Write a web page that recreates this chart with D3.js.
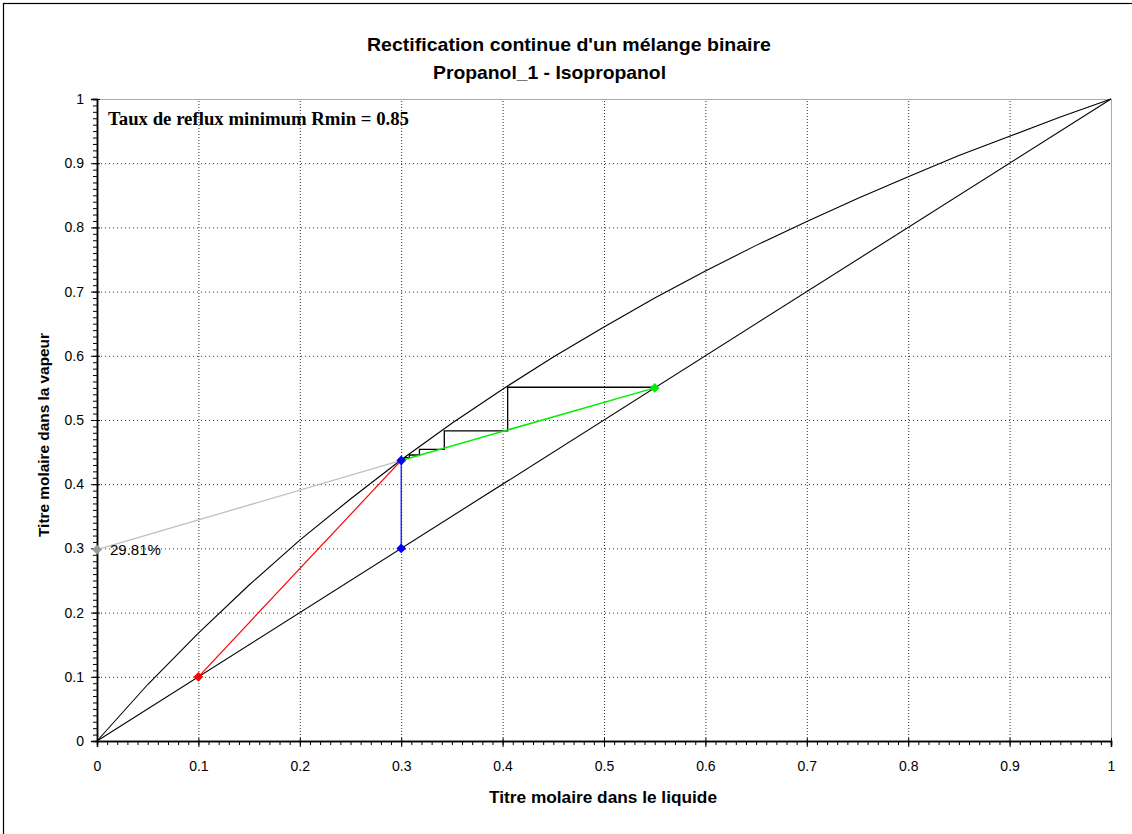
<!DOCTYPE html>
<html>
<head>
<meta charset="utf-8">
<script src="https://cdn.jsdelivr.net/npm/d3@7"></script>
<style>
  html, body { margin: 0; padding: 0; background: #fff; }
  svg { display: block; }
</style>
</head>
<body>
<script>
// Liquid-vapour equilibrium, Propanol_1 / Isopropanol (mole fractions)
const eqX = [0, 0.05, 0.1, 0.15, 0.2, 0.25, 0.3, 0.35, 0.4, 0.45, 0.5, 0.55, 0.6, 0.65, 0.7, 0.75, 0.8, 0.85, 0.9, 0.95, 1];
const eqY = [0, 0.088, 0.168, 0.243, 0.313, 0.377, 0.438, 0.495, 0.548, 0.598, 0.645, 0.690, 0.732, 0.772, 0.809, 0.845, 0.879, 0.912, 0.942, 0.972, 1];

// Diagonal y = x
const diagX = [0, 1];

// Compositions
const xD = 0.55;        // distillate
const xF = 0.30;        // feed
const xW = 0.10;        // residue
const yPinch = 0.437;   // intersection of operating lines on the q-line
const intercept = 0.2981; // ordinate at origin of rectifying line
const interceptLabel = "29.81%";
const rminText = "Taux de reflux minimum Rmin = 0.85";

// Stage construction (McCabe-Thiele steps)
const stepX = [0.405, 0.3425, 0.318, 0.308, 0.3035, 0.3015];
const stepY = [0.551, 0.483, 0.4543, 0.4455, 0.4415, 0.4395, 0.4385];

const tickVals = [0, 0.1, 0.2, 0.3, 0.4, 0.5, 0.6, 0.7, 0.8, 0.9, 1];
const tickLabels = ["0", "0.1", "0.2", "0.3", "0.4", "0.5", "0.6", "0.7", "0.8", "0.9", "1"];

const SANS = "Arial, 'Liberation Sans', sans-serif";
const SERIF = "'Liberation Serif', 'Times New Roman', serif";

const W = 1132, H = 834;
const svg = d3.select("body").append("svg").attr("width", W).attr("height", H)
  .style("font-family", SANS);

// outer frame (only top and left edges fall inside the window)
svg.append("rect").attr("x", 3.5).attr("y", 3.5).attr("width", 1140).attr("height", 840)
  .attr("fill", "none").attr("stroke", "#000").attr("stroke-width", 1.2);

const x = d3.scaleLinear().domain([0, 1]).range([97, 1111]);
const y = d3.scaleLinear().domain([0, 1]).range([741, 99]);

// title
svg.append("text").attr("x", 569).attr("y", 51).attr("text-anchor", "middle")
  .attr("font-size", 19).attr("font-weight", "bold")
  .attr("textLength", 404).attr("lengthAdjust", "spacingAndGlyphs")
  .text("Rectification continue d'un mélange binaire");
svg.append("text").attr("x", 549.5).attr("y", 79).attr("text-anchor", "middle")
  .attr("font-size", 19).attr("font-weight", "bold")
  .attr("textLength", 233).attr("lengthAdjust", "spacingAndGlyphs")
  .text("Propanol_1 - Isopropanol");

// grid
const grid = svg.append("g");
tickVals.filter(v => v > 0 && v < 1).forEach(v => {
  grid.append("line").attr("x1", x(v) + 0.5).attr("x2", x(v) + 0.5).attr("y1", y(0)).attr("y2", y(1))
    .attr("stroke", "#333").attr("stroke-width", 1).attr("stroke-dasharray", "1,2");
  grid.append("line").attr("x1", x(0)).attr("x2", x(1)).attr("y1", y(v) + 0.5).attr("y2", y(v) + 0.5)
    .attr("stroke", "#333").attr("stroke-width", 1).attr("stroke-dasharray", "1,3");
});

// top/right frame of plot
svg.append("line").attr("x1", x(0)).attr("x2", x(1)).attr("y1", y(1) + 0.5).attr("y2", y(1) + 0.5)
  .attr("stroke", "#aaa");
svg.append("line").attr("x1", x(1) + 0.5).attr("x2", x(1) + 0.5).attr("y1", y(1)).attr("y2", y(0))
  .attr("stroke", "#aaa");

// axes
const minor = d3.range(0, 101).map(i => i / 100);
const xMinor = svg.append("g").attr("transform", `translate(0,${y(0)})`)
  .call(d3.axisBottom(x).tickValues(minor).tickSize(4).tickFormat(""));
const xMajor = svg.append("g").attr("transform", `translate(0,${y(0)})`)
  .call(d3.axisBottom(x).tickValues(tickVals).tickSize(6)
    .tickFormat((d, i) => tickLabels[i]));
xMajor.selectAll(".tick line").attr("y1", -3);
const yMinor = svg.append("g").attr("transform", `translate(${x(0)},0)`)
  .call(d3.axisLeft(y).tickValues(minor).tickSize(4).tickFormat(""));
const yMajor = svg.append("g").attr("transform", `translate(${x(0)},0)`)
  .call(d3.axisLeft(y).tickValues(tickVals).tickSize(6).tickPadding(7)
    .tickFormat((d, i) => tickLabels[i]));
yMajor.selectAll(".tick line").attr("x1", 3);
[xMinor, xMajor, yMinor, yMajor].forEach(g => {
  g.attr("font-family", SANS);
  g.selectAll(".domain").attr("stroke", "#000").attr("stroke-width", 1.5);
  g.selectAll(".tick line").attr("stroke", "#000");
  g.selectAll("text").attr("font-size", 14).attr("fill", "#000");
});
xMajor.selectAll("text").attr("dy", 0).attr("y", 30);

// axis titles
svg.append("text").attr("x", 603).attr("y", 803).attr("text-anchor", "middle")
  .attr("font-size", 16).attr("font-weight", "bold")
  .attr("textLength", 228).attr("lengthAdjust", "spacingAndGlyphs")
  .text("Titre molaire dans le liquide");
svg.append("text").attr("transform", "translate(49,435) rotate(-90)").attr("text-anchor", "middle")
  .attr("font-size", 15).attr("font-weight", "bold")
  .attr("textLength", 204).attr("lengthAdjust", "spacingAndGlyphs")
  .text("Titre molaire dans la vapeur");

const line = d3.line().x(d => x(d[0])).y(d => y(d[1]));
const plot = svg.append("g");

// diagonal and equilibrium curve
plot.append("path").datum(diagX.map(v => [v, v])).attr("d", line)
  .attr("fill", "none").attr("stroke", "#000").attr("stroke-width", 1.1);
plot.append("path").datum(eqX.map((v, i) => [v, eqY[i]])).attr("d", line)
  .attr("fill", "none").attr("stroke", "#000").attr("stroke-width", 1.1);

// rectifying line extended to the ordinate axis
plot.append("path").datum([[0, intercept], [xF, yPinch]]).attr("d", line)
  .attr("fill", "none").attr("stroke", "#c0c0c0").attr("stroke-width", 1.3);

// stripping line
plot.append("path").datum([[xW, xW], [xF, yPinch]]).attr("d", line)
  .attr("fill", "none").attr("stroke", "#ff0000").attr("stroke-width", 1.2);

// q-line (saturated liquid feed)
plot.append("path").datum([[xF, xF], [xF, yPinch]]).attr("d", line)
  .attr("fill", "none").attr("stroke", "#0000ff").attr("stroke-width", 1.2);

// stages
const stairs = [[xD, stepY[0]]];
stepX.forEach((sx, i) => { stairs.push([sx, stepY[i]]); stairs.push([sx, stepY[i + 1]]); });
plot.append("path").datum(stairs).attr("d", line)
  .attr("fill", "none").attr("stroke", "#000").attr("stroke-width", 1.3);

// rectifying line
plot.append("path").datum([[xD, xD], [xF, yPinch]]).attr("d", line)
  .attr("fill", "none").attr("stroke", "#00ee00").attr("stroke-width", 1.5);

// diamonds
const diamond = d3.symbol().type(d3.symbolDiamond2).size(60);
const pts = [
  [0, intercept, "#999999"],
  [xW, xW, "#ff0000"],
  [xF, xF, "#0000ff"],
  [xF, yPinch, "#0000ff"],
  [xD, xD, "#00ee00"]
];
plot.selectAll(".pt").data(pts).join("path")
  .attr("transform", d => `translate(${x(d[0])},${y(d[1])})`)
  .attr("d", diamond).attr("fill", d => d[2]);

svg.append("text").attr("x", x(0) + 13).attr("y", y(intercept) + 5)
  .attr("font-size", 15).attr("fill", "#000").text(interceptLabel);

svg.append("text").attr("x", 108).attr("y", 125)
  .attr("font-family", SERIF)
  .attr("font-size", 18).attr("font-weight", "bold")
  .attr("textLength", 301).attr("lengthAdjust", "spacingAndGlyphs")
  .text(rminText);
</script>
</body>
</html>
